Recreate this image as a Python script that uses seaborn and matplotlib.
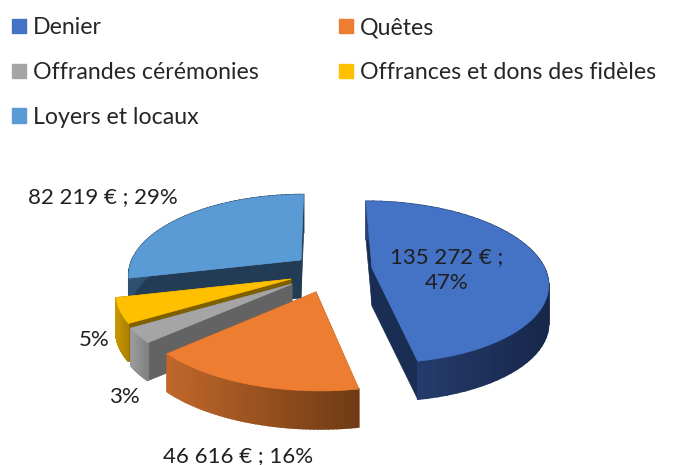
import numpy as np
import matplotlib
matplotlib.use('Agg')
import matplotlib.pyplot as plt
from matplotlib.colors import to_rgb
from matplotlib.patches import Patch
import seaborn as sns

sns.set_theme(style='white')
plt.rcParams['font.family'] = ['Lato', 'DejaVu Sans']

# data
categories = ['Denier', 'Quêtes', 'Offrandes cérémonies', 'Offrances et dons des fidèles', 'Loyers et locaux']
values = [135272, 46616, 8600, 14300, 82219]
slice_labels = ['135 272 € ;\n47%', '46 616 € ; 16%', '3%', '5%', '82 219 € ; 29%']

# look of the slices
top_colors = sns.color_palette(['#4472C4', '#ED7D31', '#A5A5A5', '#FFC000', '#5B9BD5'])
cut_colors = ['#1A2D52', '#7A4018', '#636363', '#7F6000', '#223C55']
rim_left = ['#2A4378', '#C0672B', '#9A9A9A', '#C79600', '#2F5070']
rim_right = ['#16274A', '#6E3A14', '#808080', '#A87F00', '#223C55']
apexes = [(372, 268), (316, 292), (292, 284), (291, 279), (301, 260)]
scales = [0.98, 1.02, 0.97, 0.98, 0.96]
shears = [0.09, 0.04, 0.0, 0.0, -0.04]
label_pos = [(447, 270), (238, 456), (124, 397), (94, 340), (103, 197)]
draw_order = [4, 3, 2, 1, 0]
RX, RY, PERSP, DEPTH = 176, 80, 0.175, 38


def project(apex, theta, scale, shear):
    # theta in degrees, clockwise from the back of the pie
    t = np.radians(theta)
    s = scale / (1 + PERSP * np.cos(t))
    dy = -RY * np.cos(t) * s
    return apex[0] + RX * np.sin(t) * s + shear * dy, apex[1] + dy


def mix(c1, c2, f):
    return tuple((1 - f) * np.array(to_rgb(c1)) + f * np.array(to_rgb(c2)))


fig, ax = plt.subplots(figsize=(6.74, 4.65), dpi=100)
fig.subplots_adjust(0, 0, 1, 1)

stops = np.concatenate([[0], np.cumsum(values) / np.sum(values) * 360])

for i in draw_order:
    a0, a1 = stops[i], stops[i + 1]
    apex = apexes[i]
    layer = draw_order.index(i) * 3
    thetas = np.linspace(a0, a1, 60)
    xs, ys = project(apex, thetas, scales[i], shears[i])

    # cut faces
    for end in (0, -1):
        ax.fill([apex[0], xs[end], xs[end], apex[0]],
                [apex[1], ys[end], ys[end] + DEPTH, apex[1] + DEPTH],
                color=cut_colors[i], lw=0.5, zorder=layer + 1)

    # outer rim, shaded from left to right
    xmin, xmax = xs.min(), xs.max()
    for j in range(len(thetas) - 1):
        f = ((xs[j] + xs[j + 1]) / 2 - xmin) / max(xmax - xmin, 1)
        ax.fill([xs[j], xs[j + 1], xs[j + 1], xs[j]],
                [ys[j], ys[j + 1], ys[j + 1] + DEPTH, ys[j] + DEPTH],
                color=mix(rim_left[i], rim_right[i], f), lw=1.2, zorder=layer + 2)

    # top face
    ax.fill(np.r_[apex[0], xs], np.r_[apex[1], ys], color=top_colors[i], lw=0.5, zorder=layer + 3)

for lab, (x, y) in zip(slice_labels, label_pos):
    ax.text(x, y, lab, ha='center', va='center', fontsize=16, color='#1f1f1f',
            linespacing=1.4, zorder=30)

ax.set_xlim(0, 674)
ax.set_ylim(465, 0)
ax.set_xticks([])
ax.set_yticks([])
sns.despine(ax=ax, left=True, bottom=True)

order = [0, 2, 4, 1, 3]
handles = [Patch(color=top_colors[i], label=categories[i]) for i in order]
ax.legend(handles=handles, ncols=2, loc='upper left', bbox_to_anchor=(0.008, 0.978),
          frameon=False, fontsize=16.7, handlelength=0.6, handleheight=0.6,
          handletextpad=0.3, labelspacing=1.03, columnspacing=3.45, borderaxespad=0, borderpad=0.3)

fig.savefig('out.png', dpi=100)
